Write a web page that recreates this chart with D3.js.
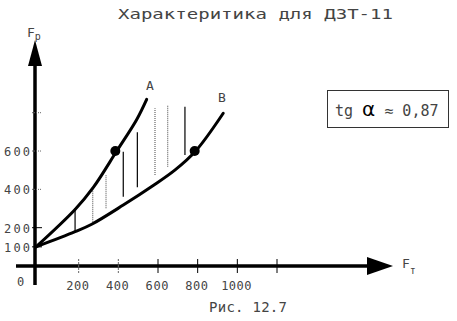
<!DOCTYPE html>
<html>
<head>
<meta charset="utf-8">
<script src="https://cdn.jsdelivr.net/npm/d3@7"></script>
<style>
  html, body { margin: 0; padding: 0; background: #fff; }
  svg { display: block; }
  text { font-family: "DejaVu Sans Mono", "Liberation Mono", monospace; fill: #444; }
</style>
</head>
<body>
<div id="chart"></div>
<script>
// Characteristic curves A and B (F_T -> F_p)
const curveA = [[0, 100], [197, 295], [289, 410], [407, 600], [508, 765], [558, 870]];
const curveB = [[0, 100], [197, 179], [281, 218], [440, 318], [591, 420], [700, 500], [805, 600], [944, 797]];
const markedPoints = [[400, 600], [800, 600]];

// hatch lines between the curves
const hatchX = [197, 286, 353, 440, 511, 600, 664, 751];
const hatchTop = [301, 405, 475, 596, 698, 823, 840, 831];
const hatchBottom = [179, 231, 301, 362, 411, 475, 518, 579];
const hatchDotted = [false, true, true, false, false, true, true, false];

const xTicks = [200, 400, 600, 800, 1000, 1200];
const xTickLabels = ["200", "400", "600", "800", "1000"];
const yTicks = [100, 200, 400, 600, 800];
const yTickLabels = ["100", "200", "400", "600"];

const titleText = "Характеритика для ДЗТ-11";
const captionText = "Рис. 12.7";

const width = 457, height = 321;

const x = d3.scaleLinear().domain([0, 1200]).range([36, 274]);
const y = d3.scaleLinear().domain([0, 800]).range([266, 112.7]);

const svg = d3.select("#chart").append("svg")
  .attr("width", width)
  .attr("height", height);

// title
svg.append("text")
  .attr("x", 118).attr("y", 19)
  .attr("font-size", 14)
  .attr("textLength", 275)
  .attr("lengthAdjust", "spacingAndGlyphs")
  .text(titleText);

// hatch lines
svg.append("g").selectAll("line")
  .data(hatchX)
  .enter().append("line")
  .attr("x1", d => x(d)).attr("x2", d => x(d))
  .attr("y1", (d, i) => y(hatchBottom[i]))
  .attr("y2", (d, i) => y(hatchTop[i]))
  .attr("stroke", (d, i) => hatchDotted[i] ? "#666" : "#000")
  .attr("stroke-width", 1.2)
  .attr("stroke-dasharray", (d, i) => hatchDotted[i] ? "1,1" : null);

// curves
const line = d3.line()
  .x(d => x(d[0]))
  .y(d => y(d[1]))
  .curve(d3.curveCatmullRom.alpha(0.5));

[curveA, curveB].forEach(c => {
  svg.append("path")
    .attr("d", line(c))
    .attr("fill", "none")
    .attr("stroke", "#000")
    .attr("stroke-width", 3)
    .attr("stroke-linecap", "round")
    .attr("stroke-linejoin", "round");
});

svg.selectAll("circle.pt")
  .data(markedPoints)
  .enter().append("circle")
  .attr("class", "pt")
  .attr("cx", d => x(d[0]))
  .attr("cy", d => y(d[1]))
  .attr("r", 5)
  .attr("fill", "#000");

// curve names
svg.append("text").attr("x", 146).attr("y", 90).attr("font-size", 13).text("A");
svg.append("text").attr("x", 218).attr("y", 102).attr("font-size", 13).text("B");

// axes
svg.append("line")
  .attr("x1", 16).attr("x2", 370)
  .attr("y1", y(0)).attr("y2", y(0))
  .attr("stroke", "#000").attr("stroke-width", 3.5);
svg.append("path")
  .attr("d", `M393,${y(0)} L367,${y(0) - 9} L367,${y(0) + 9} Z`)
  .attr("fill", "#000");

svg.append("line")
  .attr("x1", 35).attr("x2", 35)
  .attr("y1", 62).attr("y2", 285)
  .attr("stroke", "#000").attr("stroke-width", 3.5);
svg.append("path")
  .attr("d", "M35,40 L28,66 L42,66 Z")
  .attr("fill", "#000");

// x ticks
svg.append("g").selectAll("line")
  .data(xTicks)
  .enter().append("line")
  .attr("x1", d => x(d) + 3).attr("x2", d => x(d) + 3)
  .attr("y1", y(0) - 7).attr("y2", y(0) + 7)
  .attr("stroke", (d, i) => i < 2 ? "#666" : "#000")
  .attr("stroke-dasharray", (d, i) => i < 2 ? "2,1" : null)
  .attr("stroke-width", 1);

svg.append("g").selectAll("text")
  .data(xTickLabels)
  .enter().append("text")
  .attr("x", (d, i) => x(xTicks[i]) + 2)
  .attr("y", 290)
  .attr("text-anchor", "middle")
  .attr("font-size", 12)
  .attr("textLength", d => d.length * 7.6)
  .text(d => d);

svg.append("text").attr("x", 17).attr("y", 286).attr("font-size", 12).text("0");

// y ticks
svg.append("g").selectAll("line")
  .data(yTicks)
  .enter().append("line")
  .attr("x1", 32).attr("x2", 42)
  .attr("y1", d => y(d)).attr("y2", d => y(d))
  .attr("stroke", d => d >= 400 ? "#666" : "#000")
  .attr("stroke-dasharray", d => d >= 400 ? "1,1" : null)
  .attr("stroke-width", 1);

svg.append("g").selectAll("text")
  .data(yTickLabels)
  .enter().append("text")
  .attr("x", 30)
  .attr("y", (d, i) => y(yTicks[i]) + 5)
  .attr("text-anchor", "end")
  .attr("font-size", 12)
  .attr("textLength", 26)
  .text(d => d);

// axis names
const fp = svg.append("text").attr("x", 27).attr("y", 37).attr("font-size", 13);
fp.append("tspan").text("F");
fp.append("tspan").attr("font-size", 10).attr("dy", 3).text("р");

const ft = svg.append("text").attr("x", 402).attr("y", 268).attr("font-size", 13);
ft.append("tspan").text("F");
ft.append("tspan").attr("font-size", 10).attr("dy", 6).text("т");

// tg alpha box
svg.append("rect")
  .attr("x", 327.5).attr("y", 90.5)
  .attr("width", 121).attr("height", 37)
  .attr("fill", "none")
  .attr("stroke", "#333")
  .attr("stroke-width", 1);
const tg = svg.append("text").attr("x", 335).attr("y", 116).attr("font-size", 15);
tg.append("tspan").text("tg ");
tg.append("tspan").attr("font-size", 20).attr("fill", "#000")
  .attr("font-family", "DejaVu Sans").text("α");
tg.append("tspan").text(" ≈ 0,87");

// caption
svg.append("text")
  .attr("x", 248).attr("y", 312)
  .attr("text-anchor", "middle")
  .attr("font-size", 14)
  .attr("textLength", 78)
  .text(captionText);
</script>
</body>
</html>
